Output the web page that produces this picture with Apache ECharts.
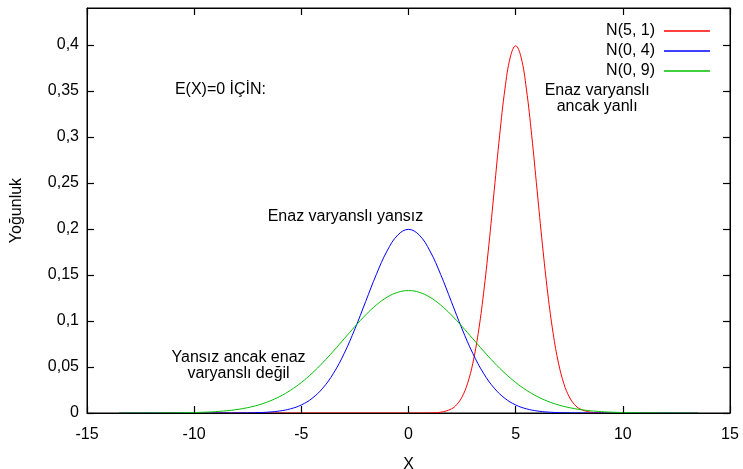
<!DOCTYPE html>
<html>
<head>
    <meta charset="utf-8">
    <title>Yoğunluk</title>
    <script src="https://cdn.jsdelivr.net/npm/echarts@6/dist/echarts.min.js"></script>
    <style>
        html, body { margin: 0; padding: 0; background: #fff; }
    </style>
</head>
<body>
<div id="main" style="width: 743px;height:469px;"></div>
<script type="text/javascript">
    // x noktaları (N(0,4) ve N(0,9) için ortak)
    var xs = [-13.5, -13, -12.5, -12, -11.5, -11, -10.5, -10, -9.5, -9,
        -8.5, -8, -7.5, -7, -6.5, -6, -5.5, -5, -4.5, -4, -3.5, -3, -2.5, -2, -1.5, -1, -0.5,
        0,
        0.5, 1, 1.5, 2, 2.5, 3, 3.5, 4, 4.5, 5, 5.5, 6, 6.5, 7, 7.5, 8, 8.5,
        9, 9.5, 10, 10.5, 11, 11.5, 12, 12.5, 13, 13.5];
    var blueY = [0, 0, 0, 0, 0, 0, 0, 0, 0, 0,
        0.00002, 0.00007, 0.00018, 0.00044, 0.00101, 0.00222, 0.00455, 0.00876, 0.01587, 0.02700,
        0.04314, 0.06476, 0.09132, 0.12099, 0.15057, 0.17603, 0.19333,
        0.19947,
        0.19333, 0.17603, 0.15057, 0.12099, 0.09132, 0.06476, 0.04314, 0.02700, 0.01587, 0.00876,
        0.00455, 0.00222, 0.00101, 0.00044, 0.00018, 0.00007, 0.00002,
        0, 0, 0, 0, 0, 0, 0, 0, 0, 0];
    var greenY = [0.00000, 0.00001, 0.00002, 0.00004, 0.00009, 0.00016, 0.00029, 0.00051, 0.00088, 0.00148,
        0.00240, 0.00380, 0.00584, 0.00874, 0.01272, 0.01800, 0.02477, 0.03316, 0.04317, 0.05467,
        0.06733, 0.08066, 0.09397, 0.10648, 0.11736, 0.12579, 0.13115,
        0.13298,
        0.13115, 0.12579, 0.11736, 0.10648, 0.09397, 0.08066, 0.06733, 0.05467, 0.04317, 0.03316,
        0.02477, 0.01800, 0.01272, 0.00874, 0.00584, 0.00380, 0.00240,
        0.00148, 0.00088, 0.00051, 0.00029, 0.00016, 0.00009, 0.00004, 0.00002, 0.00001, 0.00000];
    // N(5,1) tepe çevresinde daha sık
    var redX = [-13.5, 0, 0.5, 1, 1.5, 2, 2.25, 2.5, 2.75, 3, 3.25, 3.5, 3.75, 4, 4.25, 4.5, 4.75,
        5, 5.25, 5.5, 5.75, 6, 6.25, 6.5, 6.75, 7, 7.25, 7.5, 7.75, 8, 8.5, 9, 9.5, 10, 13.5];
    var redY = [0, 0, 0.00002, 0.00013, 0.00087, 0.00443, 0.00910, 0.01753, 0.03174, 0.05399, 0.08628,
        0.12952, 0.18265, 0.24197, 0.30114, 0.35207, 0.38667,
        0.39894, 0.38667, 0.35207, 0.30114, 0.24197, 0.18265, 0.12952, 0.08628, 0.05399, 0.03174,
        0.01753, 0.00910, 0.00443, 0.00087, 0.00013, 0.00002, 0, 0];
    var seriesNames = ['N(5, 1)', 'N(0, 4)', 'N(0, 9)'];
    var xTicks = [-15, 15, 5];
    var yTicks = [0, 0.44, 0.05];

    // açıklamalar (veri koordinatlarında)
    var notes = [
        {x: -10.9, y: 0.351, text: 'E(X)=0 İÇİN:', align: 'left'},
        {x: 8.8, y: 0.342, text: 'Enaz varyanslı\nancak yanlı', align: 'center'},
        {x: -2.94, y: 0.213, text: 'Enaz varyanslı yansız', align: 'center'},
        {x: -7.93, y: 0.051, text: 'Yansız ancak enaz\nvaryanslı değil', align: 'center'}
    ];

    function zip(a, b) {
        var out = [];
        for (var i = 0; i < a.length; i++) out.push([a[i], b[i]]);
        return out;
    }

    var FONT = 'Liberation Sans, Arial, sans-serif';
    var FS = 16;
    var myChart = echarts.init(document.getElementById('main'));

    function axis(kind, pos, extra) {
        var r = kind === 'x' ? xTicks : yTicks;
        var a = {
            type: 'value', position: pos, min: r[0], max: r[1], interval: r[2], z: 10,
            splitLine: {show: false},
            axisLine: {show: true, onZero: false, lineStyle: {color: '#000', width: 1}},
            axisTick: {show: true, inside: true, length: 7, lineStyle: {color: '#000', width: 1.2}}
        };
        return Object.assign(a, extra || {});
    }

    // ana grafik
    var option = {
        animation: false,
        grid: {left: 87, right: 13, top: 8, bottom: 56, show: true, borderColor: '#000', borderWidth: 1,
            outerBoundsMode: 'none'},
        legend: {
            orient: 'vertical', right: 28, top: 16, align: 'right',
            icon: 'rect', itemWidth: 46, itemHeight: 1.5, itemGap: 0,
            data: seriesNames,
            textStyle: {fontFamily: FONT, fontSize: FS, color: '#000', lineHeight: 20, padding: [0, 4, 0, 0]}
        },
        xAxis: [
            axis('x', 'bottom', {
                name: 'X', nameLocation: 'middle', nameGap: 44,
                nameTextStyle: {fontFamily: FONT, fontSize: FS, color: '#000'},
                axisLabel: {color: '#000', fontSize: FS, fontFamily: FONT, margin: 14}
            }),
            axis('x', 'top', {axisLabel: {show: false}})
        ],
        yAxis: [
            axis('y', 'left', {
                name: 'Yoğunluk', nameLocation: 'middle', nameGap: 62,
                nameTextStyle: {fontFamily: FONT, fontSize: FS, color: '#000'},
                axisLabel: {color: '#000', fontSize: FS, fontFamily: FONT, margin: 8, showMaxLabel: false,
                    formatter: function (v) { return String(+v.toFixed(2)).replace('.', ','); }}
            }),
            axis('y', 'right', {axisLabel: {show: false}})
        ],
        series: [
            {name: seriesNames[0], type: 'line', data: zip(redX, redY), color: '#ff0000'},
            {name: seriesNames[1], type: 'line', data: zip(xs, blueY), color: '#0000ff'},
            {name: seriesNames[2], type: 'line', data: zip(xs, greenY), color: '#00c000'}
        ].map(function (s) {
            s.symbol = 'none';
            s.smooth = 0.4;
            s.lineStyle = {width: 1, color: s.color};
            s.itemStyle = {color: s.color};
            return s;
        })
    };
    myChart.setOption(option);

    // açıklama metinlerini eksen ölçeğiyle yerleştir
    var graphics = notes.map(function (n) {
        var p = myChart.convertToPixel({xAxisIndex: 0, yAxisIndex: 0}, [n.x, n.y]);
        return {
            type: 'text', x: p[0], y: p[1],
            style: {text: n.text, fill: '#000', font: FS + 'px ' + FONT, align: n.align,
                verticalAlign: 'middle', lineHeight: 16}
        };
    });
    myChart.setOption({graphic: graphics});
</script>
</body>
</html>
